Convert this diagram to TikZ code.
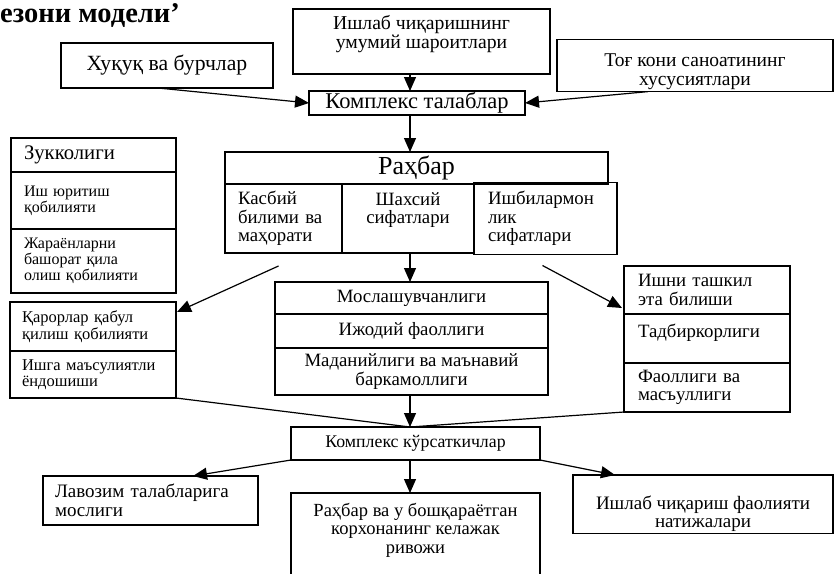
\documentclass[tikz,border=0pt]{standalone}
\usepackage{fontspec}
\setmainfont{Liberation Serif}
\usetikzlibrary{positioning,calc,arrows.meta}

\newcommand\lift[1]{\rule[-#1pt]{0pt}{#1pt}}
\newcommand\sink[1]{\rule{0pt}{#1pt}}

\tikzset{
  box/.style={draw,line width=1.2pt,outer sep=0pt,inner sep=2pt,align=center,
    font=\fontsize{18.8}{18.5}\selectfont},
  cell/.style={box,align=left,inner xsep=13pt},
  small/.style={font=\fontsize{16}{16}\selectfont},
  wide/.style={font=\fontsize{16.5}{16.5}\selectfont},
  pil/.style={line width=1.2pt,-{Triangle[length=14pt,width=12pt]}},
  lin/.style={line width=1.2pt}
}

\begin{document}
\begin{tikzpicture}[x=1pt,y=-1pt]
\useasboundingbox (0,0) rectangle (837,573);
\coordinate (axis) at (410,0);

\node[anchor=base west,inner sep=0pt,font=\fontsize{28.5}{28}\selectfont\bfseries] (title) at (0,22) {езони модели’};

% top row
\node[box,minimum width=257pt,minimum height=65pt,font=\fontsize{19.7}{19}\selectfont] (top) at (421.5,41.5) {Ишлаб чиқаришнинг\\умумий шароитлари\lift{19}};
\node[box,minimum width=212pt,minimum height=45pt,font=\fontsize{21.7}{22}\selectfont] (huquq) at (167,65.5) {Хуқуқ ва бурчлар};
\node[box,minimum width=276pt,minimum height=47pt,font=\fontsize{19.5}{19}\selectfont] (tog) at (695,65.5) {\sink{25}Тоғ кони саноатининг\\хусусиятлари};
\node[box,minimum width=216pt,minimum height=24pt,inner sep=0pt,font=\fontsize{22.5}{22}\selectfont] (talab) at (417,103) {Комплекс талаблар};

% rahbar
\node[box,minimum width=383pt,minimum height=32pt,font=\fontsize{26}{26}\selectfont] (rahbar) at (416.5,168) {Раҳбар};
\node[cell,text width=91pt,minimum height=69pt,anchor=north west] (kasb) at (rahbar.south west) {Касбий\\билими ва\\маҳорати};
\node[box,minimum width=132pt,minimum height=69pt,anchor=north west] (shaxs) at (kasb.north east) {Шахсий\\сифатлари\lift{21}};
\node[cell,text width=115pt,minimum height=72pt,anchor=west,inner xsep=14pt] (ishbil) at (shaxs.east) {Ишбилармон\\лик\\сифатлари};

% left stacks
\node[cell,text width=139pt,minimum height=34pt,anchor=north west,font=\fontsize{20.7}{20}\selectfont] (zuk) at (11,138) {Зукколиги};
\node[cell,small,text width=139pt,minimum height=57pt,below=0pt of zuk] (yurit) {Иш юритиш\\қобилияти};
\node[cell,small,text width=139pt,minimum height=64pt,below=0pt of yurit] (bashor) {Жараёнларни\\башорат қила\\олиш қобилияти};
\node[cell,wide,text width=142pt,inner xsep=12pt,minimum height=49pt,anchor=north west] (qaror) at (10,302) {Қарорлар қабул\\қилиш қобилияти};
\node[cell,wide,text width=142pt,inner xsep=12pt,minimum height=47pt,below=0pt of qaror] (ishga) {Ишга маъсулиятли\\ёндошиши};

% middle stack
\node[box,minimum width=273pt,minimum height=32pt,anchor=north west] (mos) at (275,282) {Мослашувчанлиги};
\node[box,minimum width=273pt,minimum height=34pt,below=0pt of mos] (ijod) {Ижодий фаоллиги};
\node[box,minimum width=273pt,minimum height=47pt,below=0pt of ijod] (mad) {Маданийлиги ва маънавий\\баркамоллиги};

% right stack
\node[cell,text width=138pt,minimum height=48pt,anchor=north west,inner xsep=14pt] (ishni) at (624,266) {Ишни ташкил\\эта билиши};
\node[cell,text width=138pt,minimum height=49pt,inner xsep=14pt,below=0pt of ishni] (tadbir) {Тадбиркорлиги\lift{16}};
\node[cell,text width=138pt,minimum height=49pt,inner xsep=14pt,below=0pt of tadbir] (fao) {Фаоллиги ва\\масъуллиги};

% bottom
\node[box,minimum width=249pt,minimum height=33pt,anchor=north west,font=\fontsize{17.8}{18}\selectfont] (kursat) at (291,427) {Комплекс кўрсаткичлар};
\node[cell,text width=191pt,inner xsep=12pt,minimum height=49pt,anchor=north west,font=\fontsize{19}{18.5}\selectfont] (lavoz) at (43,476) {Лавозим талабларига\\мослиги};
\node[box,minimum width=249pt,anchor=north,inner ysep=10pt,text depth=60pt,font=\fontsize{18.5}{18.5}\selectfont] (kelaj) at (415.5,493) {Раҳбар ва у бошқараётган\\корхонанинг келажак\\ривожи};
\node[box,minimum width=260pt,minimum height=51pt,anchor=north west,font=\fontsize{19}{18.5}\selectfont] (natija) at (573,475) {\sink{32}Ишлаб чиқариш фаолияти\\натижалари};

% connectors
\coordinate (fromL) at ($(kasb.south)+(-5,13)$);
\coordinate (fromR) at ($(ishbil.south)+(-3,11)$);
\draw[pil] (top.south -| axis) -- (talab.north -| axis);
\draw[pil] ($(huquq.south)+(-9,0)$) -- (talab.west);
\draw[pil] ($(tog.south west)!0.33!(tog.south east)$) -- (talab.east);
\draw[pil] (talab.south -| axis) -- (rahbar.north -| axis);
\draw[pil] (shaxs.south -| axis) -- (mos.north -| axis);
\draw[pil] (fromL) -- ($(qaror.north east)+(1,10)$);
\draw[pil] (fromR) -- ($(ishni.south west)+(-2,-6)$);
\draw[pil] (mad.south -| axis) -- (kursat.north -| axis);
\draw[lin] (ishga.south east) -- (kursat.north -| axis);
\draw[lin] (fao.south west) -- (kursat.north -| axis);
\draw[pil] (kursat.south west) -- ($(lavoz.north east)+(-65,0)$);
\draw[pil] (kursat.south -| axis) -- (kelaj.north -| axis);
\draw[pil] (kursat.south east) -- ($(natija.north west)+(42,0)$);
\end{tikzpicture}
\end{document}
